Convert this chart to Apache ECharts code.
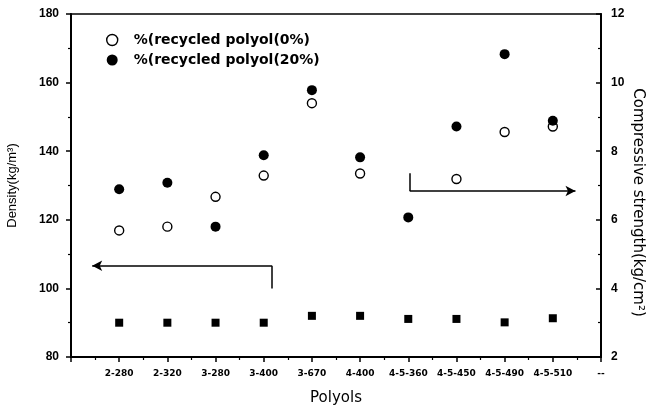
<!DOCTYPE html>
<html>
<head>
<meta charset="utf-8">
<script src="https://cdn.jsdelivr.net/npm/echarts@6/dist/echarts.min.js"></script>
<style>html,body{margin:0;padding:0;background:#fff}#c{width:647px;height:405px}</style>
</head>
<body>
<div id="c"></div>
<script>
const categories = ['2-280','2-320','3-280','3-400','3-670','4-400','4-5-360','4-5-450','4-5-490','4-5-510'];
const densityValues = [90, 90, 90, 90, 92, 92, 91.1, 91.1, 90.1, 91.3];
const strength0 = [5.69, 5.80, 6.67, 7.29, 9.40, 7.35, null, 7.19, 8.56, 8.72];
const strength20 = [6.89, 7.08, 5.80, 7.88, 9.78, 7.82, 6.07, 8.72, 10.83, 8.89];
const seriesNames = ['%(recycled polyol(0%)', '%(recycled polyol(20%)'];
const leftTicks = [80, 100, 120, 140, 160, 180];
const rightTicks = [2, 4, 6, 8, 10, 12];

const toPairs = arr => arr.map((v, i) => [i + 1, v]).filter(p => p[1] !== null);

const chart = echarts.init(document.getElementById('c'));
const ff = '"Liberation Sans", Arial, sans-serif';
const dv = '"DejaVu Sans", sans-serif';
const axisLine = {lineStyle: {color: '#000', width: 2}};

chart.setOption({
  animation: false,
  backgroundColor: '#fff',
  grid: {left: 71, right: 46, top: 14, bottom: 48, outerBoundsMode: 'none', containLabel: false,
         show: true, borderColor: '#000', borderWidth: 1.5, backgroundColor: 'transparent'},
  legend: {
    orient: 'vertical', left: 101, top: 27, itemGap: 4, itemWidth: 11, itemHeight: 11,
    data: [
      {name: seriesNames[0], icon: 'circle', itemStyle: {color: '#fff', borderColor: '#000', borderWidth: 1.4, opacity: 1}},
      {name: seriesNames[1], icon: 'circle', itemStyle: {color: '#000', opacity: 1}}
    ],
    textStyle: {fontFamily: dv, fontSize: 14, color: '#000', fontWeight: 'bold', padding: [0, 0, 0, 11], lineHeight: 16},
    selectedMode: false
  },
  xAxis: {
    type: 'value', min: 0, max: 11, interval: 1,
    name: 'Polyols', nameLocation: 'middle', nameGap: 34, nameMoveOverlap: false,
    nameTextStyle: {fontFamily: dv, fontSize: 15, color: '#000'},
    axisLine: axisLine,
    axisTick: {show: true, length: 5, lineStyle: {color: '#000', width: 1.5}},
    minorTick: {show: true, splitNumber: 2, length: 3, lineStyle: {color: '#000', width: 1.2}},
    splitLine: {show: false},
    axisLabel: {
      margin: 12, fontFamily: dv, fontSize: 9, fontWeight: 'bold', color: '#000',
      showMinLabel: true, showMaxLabel: true,
      formatter: v => v === 0 ? '' : (v === 11 ? '--' : (categories[v - 1] || ''))
    }
  },
  yAxis: [
    {
      type: 'value', min: leftTicks[0], max: leftTicks[leftTicks.length - 1], interval: 20,
      name: 'Density(kg/m\u00B3)', nameLocation: 'middle', nameGap: 52, nameMoveOverlap: false,
      nameTextStyle: {fontFamily: ff, fontSize: 13, color: '#000'},
      axisLine: axisLine,
      axisTick: {show: true, length: 5, lineStyle: {color: '#000', width: 1.5}},
      minorTick: {show: true, splitNumber: 2, length: 3, lineStyle: {color: '#000', width: 1.2}},
      splitLine: {show: false},
      axisLabel: {margin: 12, fontFamily: ff, fontSize: 12, fontWeight: 'bold', color: '#000'}
    },
    {
      type: 'value', position: 'right', min: rightTicks[0], max: rightTicks[rightTicks.length - 1], interval: 2,
      name: 'Compressive strength(kg/cm\u00B2)', nameLocation: 'middle', nameGap: 29, nameRotate: -90, nameMoveOverlap: false,
      nameTextStyle: {fontFamily: dv, fontSize: 15, color: '#000', padding: [0, 0, 0, 34]},
      axisLine: axisLine,
      axisTick: {show: true, inside: true, length: 5, lineStyle: {color: '#000', width: 1.5}},
      minorTick: {show: true, splitNumber: 2, length: 3, lineStyle: {color: '#000', width: 1.2}},
      splitLine: {show: false},
      axisLabel: {margin: 10, fontFamily: ff, fontSize: 12, fontWeight: 'bold', color: '#000'}
    }
  ],
  series: [
    {
      name: 'density', type: 'scatter', yAxisIndex: 0, symbol: 'rect', symbolSize: 8,
      itemStyle: {color: '#000', opacity: 1}, data: toPairs(densityValues),
      markLine: {
        silent: true, symbol: 'none', symbolSize: [8, 10],
        label: {show: false},
        lineStyle: {color: '#000', width: 1.5, type: 'solid'},
        data: [
          [{coord: [4.17, 106.6], symbol: 'none'}, {coord: [0.44, 106.6], symbol: 'arrow'}],
          [{coord: [4.17, 106.6]}, {coord: [4.17, 100]}],
          [{coord: [7.03, 133.6]}, {coord: [7.03, 128.4]}],
          [{coord: [7.03, 128.4], symbol: 'none'}, {coord: [10.47, 128.4], symbol: 'arrow'}]
        ]
      }
    },
    {
      name: seriesNames[0], type: 'scatter', yAxisIndex: 1, symbol: 'circle', symbolSize: 9,
      itemStyle: {color: '#fff', borderColor: '#000', borderWidth: 1.4, opacity: 1}, data: toPairs(strength0)
    },
    {
      name: seriesNames[1], type: 'scatter', yAxisIndex: 1, symbol: 'circle', symbolSize: 10,
      itemStyle: {color: '#000', opacity: 1}, data: toPairs(strength20)
    }
  ]
});
</script>
</body>
</html>
